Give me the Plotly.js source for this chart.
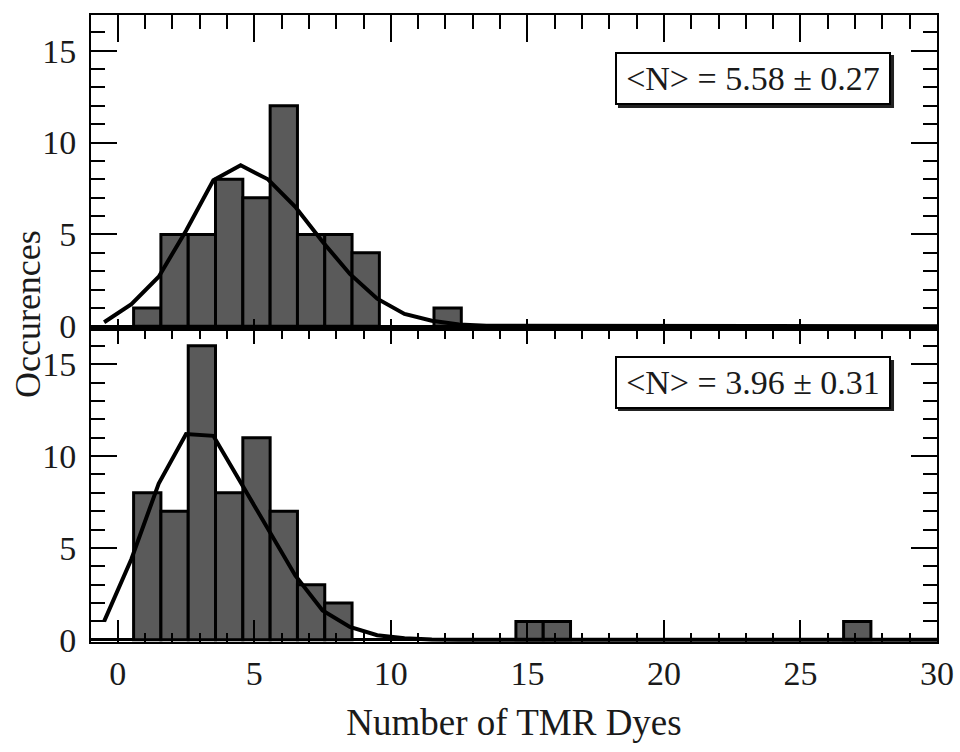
<!DOCTYPE html>
<html>
<head>
<meta charset="utf-8">
<script src="https://cdn.plot.ly/plotly-3.0.1.min.js"></script>
<style>html,body{margin:0;padding:0;background:#fff;}#chart{width:960px;height:752px;}</style>
</head>
<body>
<div id="chart"></div>
<script>
// Histogram bins (number of dyes) and occurrence counts
const binsTop = [1, 2, 3, 4, 5, 6, 7, 8, 9, 12];
const countsTop = [1, 5, 5, 8, 7, 12, 5, 5, 4, 1];
const binsBottom = [1, 2, 3, 4, 5, 6, 7, 8, 15, 16, 27];
const countsBottom = [8, 7, 16, 8, 11, 7, 3, 2, 1, 1, 1];

// Fitted curves
const fitXTop = [-0.5, 0.5, 1.5, 2.5, 3.5, 4.5, 5.5, 6.5, 7.5, 8.5, 9.5, 10.5, 11.5, 12.5, 13.5, 30];
const fitYTop = [0.22, 1.2, 2.7, 5.2, 7.95, 8.76, 8.0, 6.5, 4.6, 2.85, 1.5, 0.67, 0.3, 0.1, 0.03, 0];
const fitXBottom = [-0.5, 0.5, 1.5, 2.5, 3.5, 4.5, 5.5, 6.5, 7.5, 8.5, 9.5, 10.5, 11.5, 12.5, 30];
const fitYBottom = [1.0, 4.4, 8.5, 11.2, 11.1, 8.6, 6.0, 3.5, 1.6, 0.7, 0.25, 0.08, 0.02, 0, 0];

const meanLabels = ["&lt;N&gt; = 5.58 ± 0.27", "&lt;N&gt; = 3.96 ± 0.31"];
const xTitle = "Number of TMR Dyes";
const yTitle = "Occurences";

const FONT = "Liberation Serif, Times New Roman, serif";
const INK = "#1a1a1a";
const XR = [-0.98, 30];
const YR = [-0.12, 16.94];

const barStyle = {color: "#5a5a5a", line: {color: "#000", width: 3}};
const curveStyle = {color: "#000", width: 4};

const traces = [
  {type: "bar", x: binsTop, y: countsTop, width: 1, offset: -0.42, marker: barStyle, xaxis: "x2", yaxis: "y2", hoverinfo: "skip"},
  {type: "scatter", mode: "lines", x: fitXTop, y: fitYTop, line: curveStyle, xaxis: "x3", yaxis: "y2", hoverinfo: "skip"},
  {type: "bar", x: binsBottom, y: countsBottom, width: 1, offset: -0.42, marker: barStyle, xaxis: "x", yaxis: "y", hoverinfo: "skip"},
  {type: "scatter", mode: "lines", x: fitXBottom, y: fitYBottom, line: curveStyle, xaxis: "x4", yaxis: "y", hoverinfo: "skip"}
];

function xax(extra) {
  return Object.assign({
    range: XR, autorange: false, dtick: 5, tick0: 0,
    ticks: "inside", tickwidth: 2, tickcolor: "#000",
    showline: true, linewidth: 2, linecolor: "#000",
    showgrid: false, zeroline: false, fixedrange: true,
    tickfont: {family: FONT, size: 34, color: INK}
  }, extra);
}
function yax(extra) {
  return Object.assign({
    range: YR, autorange: false, dtick: 5, tick0: 0,
    ticks: "inside", ticklen: 26, tickwidth: 2, tickcolor: "#000",
    minor: {ticks: "inside", ticklen: 14, dtick: 1, tick0: 0, tickwidth: 2, tickcolor: "#000", showgrid: false},
    showline: true, linewidth: 2, linecolor: "#000", mirror: "ticks",
    showgrid: false, zeroline: true, zerolinecolor: "#000", zerolinewidth: 3,
    fixedrange: true, ticklabelstandoff: 6,
    tickfont: {family: FONT, size: 34, color: INK}
  }, extra);
}

const layout = {
  width: 960, height: 752,
  margin: {l: 91, r: 23, t: 15, b: 110},
  paper_bgcolor: "#fff", plot_bgcolor: "#fff",
  showlegend: false, bargap: 0,
  font: {family: FONT, color: INK},
  xaxis: xax({anchor: "y", side: "bottom", ticklen: 22,
    minor: {ticks: "inside", ticklen: 9, dtick: 1, tick0: 0, tickwidth: 2, tickcolor: "#000", showgrid: false},
    ticklabelstandoff: 0,
    title: {text: xTitle, font: {family: FONT, size: 37, color: INK}, standoff: 18}}),
  xaxis4: xax({overlaying: "x", anchor: "y", side: "top", ticklen: 15,
    minor: {ticks: "inside", ticklen: 10, dtick: 1, tick0: 0, tickwidth: 2, tickcolor: "#000", showgrid: false},
    showticklabels: false}),
  xaxis2: xax({anchor: "y2", side: "bottom", ticklen: 10, showticklabels: false}),
  xaxis3: xax({overlaying: "x2", anchor: "y2", side: "top", ticklen: 27,
    minor: {ticks: "inside", ticklen: 14, dtick: 1, tick0: 0, tickwidth: 2, tickcolor: "#000", showgrid: false},
    showticklabels: false}),
  yaxis: yax({domain: [0, 0.5], anchor: "x"}),
  yaxis2: yax({domain: [0.5, 1], anchor: "x2"}),
  shapes: [
    {type: "rect", xref: "paper", yref: "paper", x0: 0.6229, x1: 0.9492, y0: 0.8517, y1: 0.9362, fillcolor: "#222", line: {width: 0}, layer: "above"},
    {type: "rect", xref: "paper", yref: "paper", x0: 0.6229, x1: 0.9492, y0: 0.3684, y1: 0.4498, fillcolor: "#222", line: {width: 0}, layer: "above"}
  ],
  annotations: [
    {xref: "paper", yref: "paper", x: 0.7825, y: 0.8987, xanchor: "center", yanchor: "middle",
     text: meanLabels[0], showarrow: false, font: {family: FONT, size: 34, color: INK},
     bgcolor: "#fff", bordercolor: "#000", borderwidth: 2, borderpad: 0, width: 272, height: 49},
    {xref: "paper", yref: "paper", x: 0.7825, y: 0.4139, xanchor: "center", yanchor: "middle",
     text: meanLabels[1], showarrow: false, font: {family: FONT, size: 34, color: INK},
     bgcolor: "#fff", bordercolor: "#000", borderwidth: 2, borderpad: 0, width: 272, height: 49},
    {xref: "paper", yref: "paper", x: -0.0745, y: 0.523, xanchor: "center", yanchor: "middle",
     text: yTitle, textangle: -90, showarrow: false, font: {family: FONT, size: 36, color: INK}}
  ]
};

Plotly.newPlot("chart", traces, layout, {staticPlot: true, displayModeBar: false});
</script>
</body>
</html>
